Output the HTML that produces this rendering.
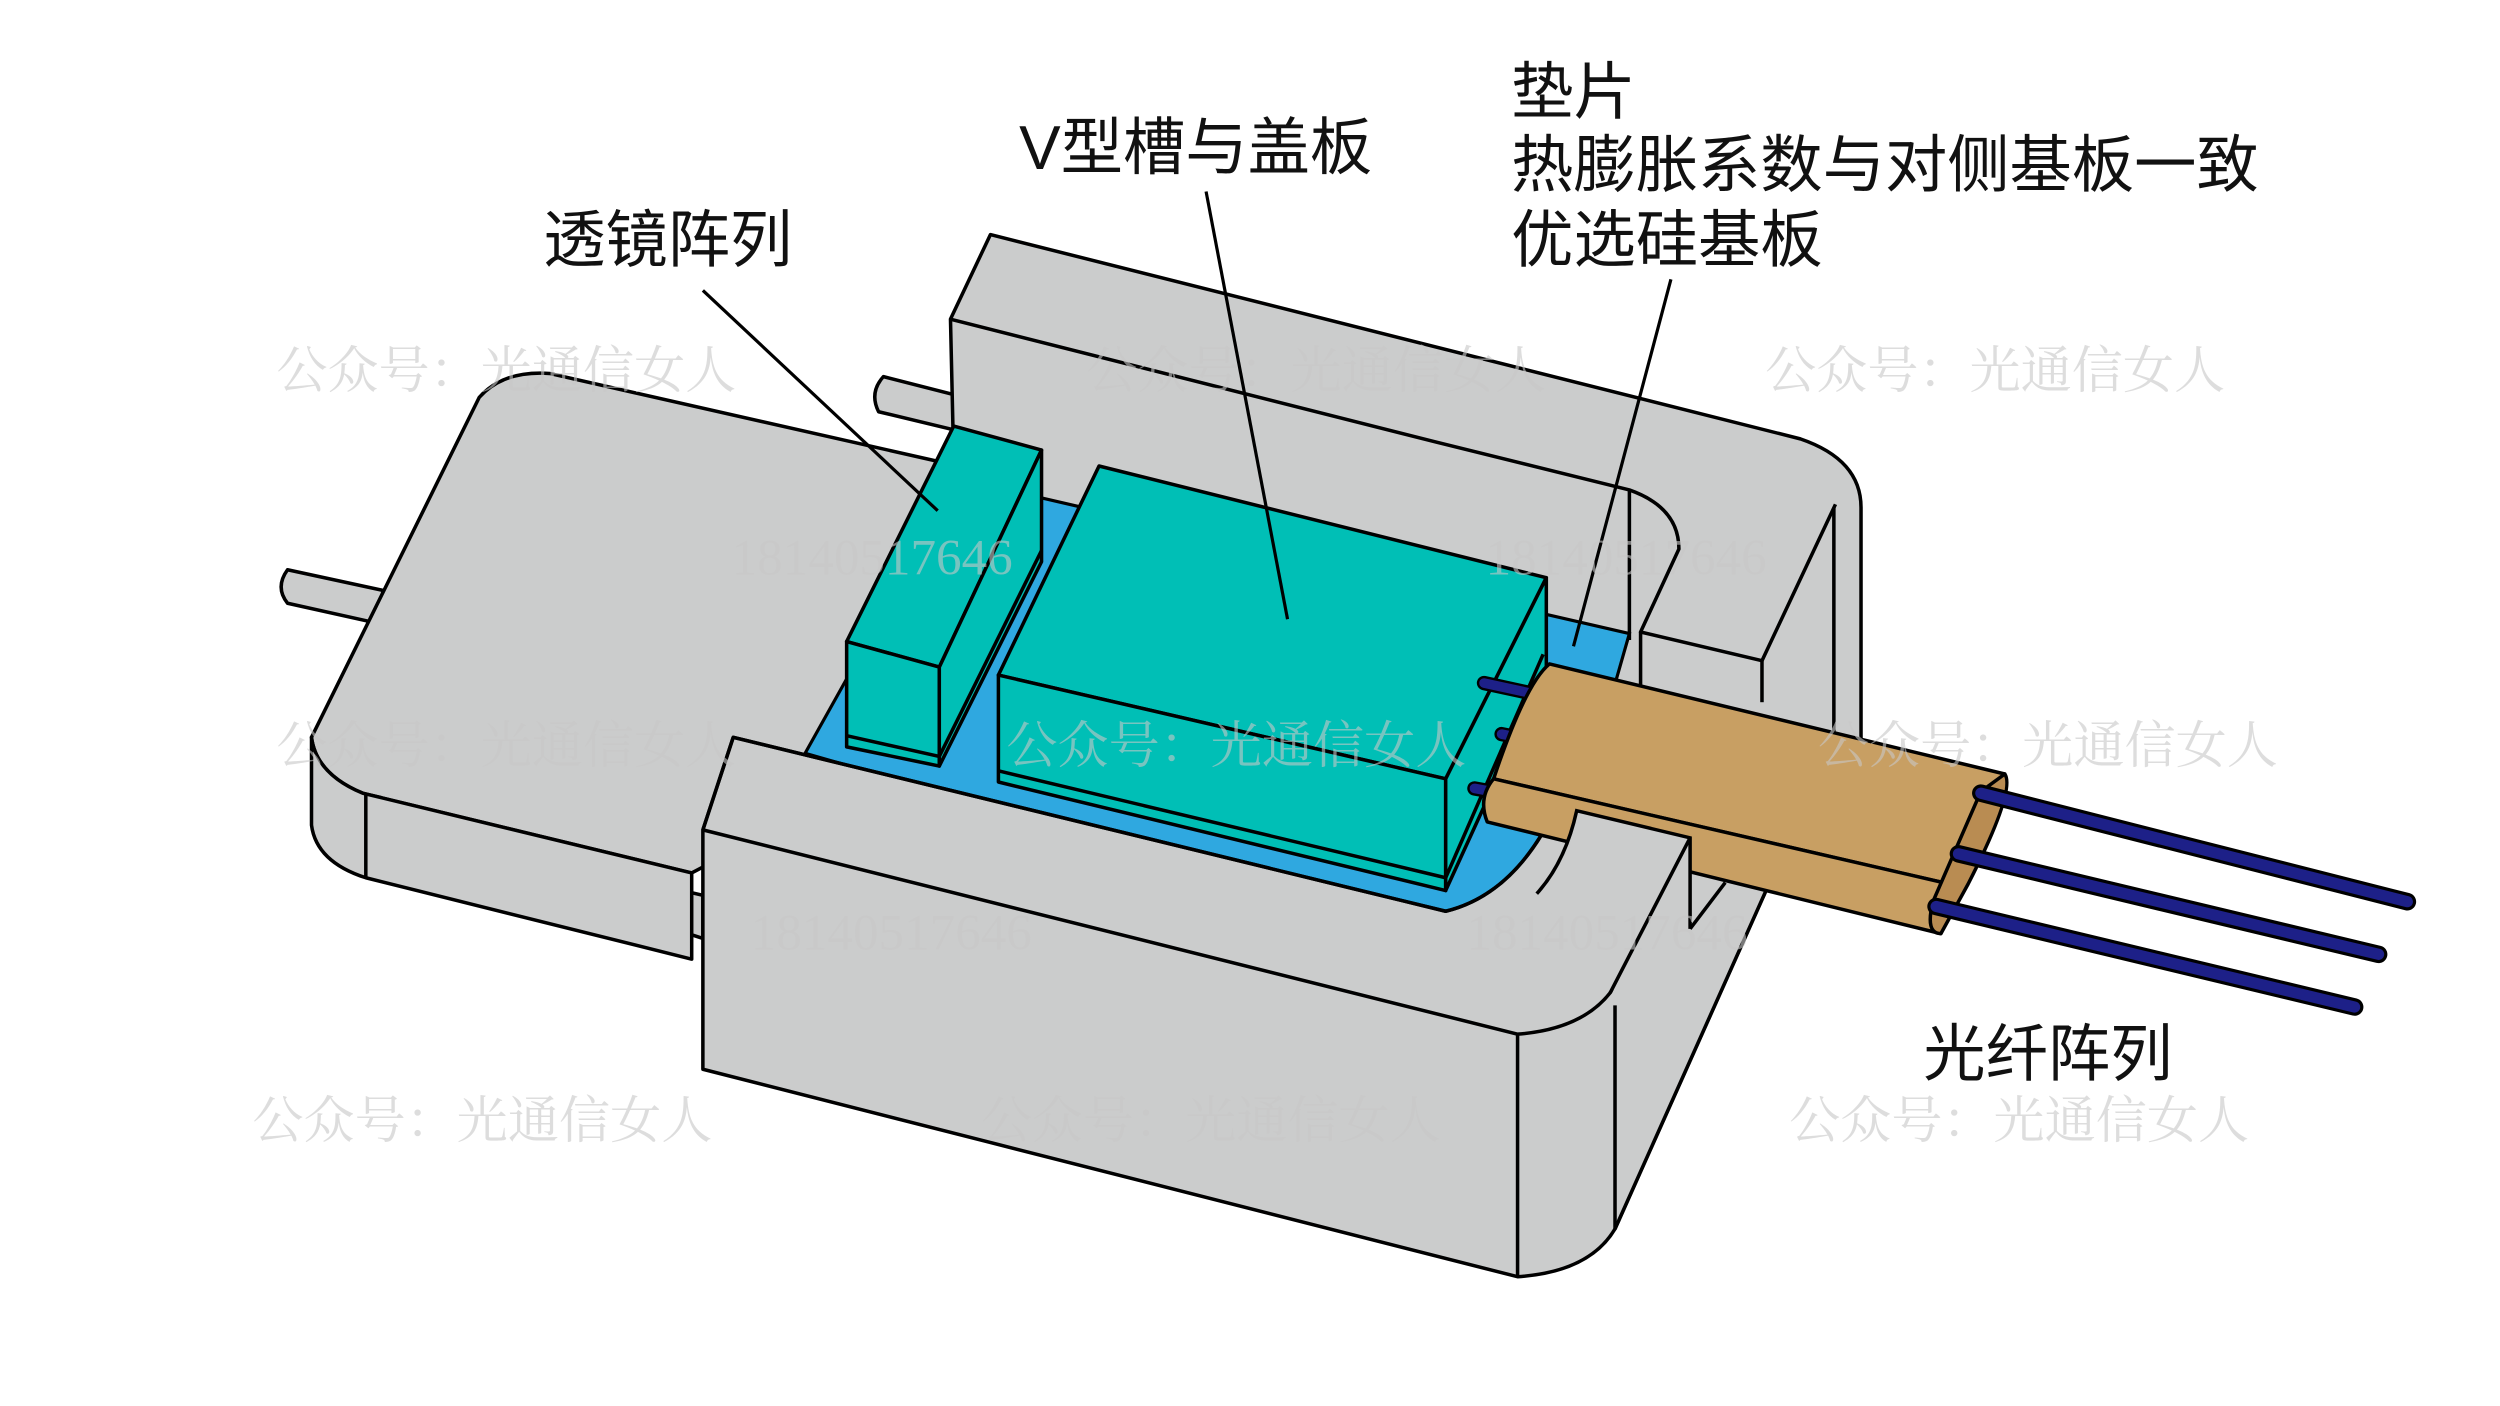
<!DOCTYPE html>
<html><head><meta charset="utf-8"><style>
html,body{margin:0;padding:0;background:#fff;}
svg{display:block;}
.t{font-family:"Liberation Sans","Noto Sans CJK SC",sans-serif;font-size:39px;fill:#111;}
.w{font-family:"Liberation Serif","Noto Serif CJK SC",serif;font-size:32px;fill:#c8c8c8;opacity:0.6;}
</style></head><body>
<svg width="2500" height="1406" viewBox="0 0 1565 881" preserveAspectRatio="none" xmlns="http://www.w3.org/2000/svg">
<g stroke="#000" stroke-width="2.2" stroke-linejoin="round" fill="#cbcccc">
<path d="M180,357 L240,370 L234,390 L180,378 Q172,368 180,357 Z"/>
<path d="M553,236 L600,248 L600,270 L550,258 Q544,246 553,236 Z"/>
<path d="M397,551 L440,561 L440,588 L394,573 Q388,560 397,551 Z"/>
<path d="M595,200 L620,147 L1127,275 Q1165,288 1165,318 L1165,500 L1100,560 L600,420 Z"/>
<path d="M595,200 L899,277 L1020,307 Q1051,318 1051,344 L1027,396 L1103,414 L1149,316" fill="none"/>
<line x1="1020" y1="307" x2="1020" y2="401"/>
<line x1="1027" y1="396" x2="1027" y2="440"/>
<line x1="1103" y1="414" x2="1103" y2="440"/>
<line x1="1148" y1="318" x2="1148" y2="460"/>
<line x1="1110" y1="548" x2="1011" y2="770"/>
<path d="M300,249 Q315,232 344,234 L600,292 L560,480 L433,547 L227,497 Q198,485 195,462 Z"/>
<path d="M195,462 Q198,485 227,497 L433,547 L433,601 L229,550 Q198,540 195,517 Z"/>
<line x1="229" y1="497" x2="229" y2="550"/>
</g>
<path d="M504,472 L600,300 L1020,397 L1012,425 L975,530 Q960,565 930,578 L880,580 Z" fill="#2fa8e0" stroke="#000" stroke-width="2"/>
<g stroke="#000" stroke-width="2.2" stroke-linejoin="round" fill="#00bfb6">
<path d="M597,267 L652,282 L588,418 L530,402 Z"/>
<path d="M530,402 L588,418 L588,480 L530,468 Z"/>
<path d="M588,418 L652,282 L652,352 L588,480 Z"/>
<line x1="530" y1="461" x2="588" y2="474"/>
<line x1="588" y1="474" x2="652" y2="345"/>
<path d="M688,292 L968,362 L905,488 L625,423 Z"/>
<path d="M625,423 L905,488 L905,558 L625,490 Z"/>
<path d="M905,488 L968,362 L968,420 L905,558 Z"/>
<line x1="625" y1="483" x2="905" y2="550"/>
<line x1="905" y1="550" x2="966" y2="410"/>
</g>
<g stroke-linecap="round">
<g stroke="#000" stroke-width="9">
<line x1="929" y1="428" x2="975" y2="438"/>
<line x1="940" y1="460" x2="965" y2="465"/>
<line x1="923" y1="494" x2="945" y2="498"/>
</g>
<g stroke="#1d2088" stroke-width="6">
<line x1="929" y1="428" x2="975" y2="438"/>
<line x1="940" y1="460" x2="965" y2="465"/>
<line x1="923" y1="494" x2="945" y2="498"/>
</g>
</g>
<g stroke="#000" stroke-width="2.2" stroke-linejoin="round" fill="#cbcccc">
<path d="M440,520 L459,462 L905,571 Q950,560 976,502 L1049,520 L1110,548 L1011,770 Q995,797 950,800 L440,670 Z"/>
<path d="M440,520 L950,648 Q990,645 1008,622 L1058,525" fill="none"/>
<path d="M459,462 L905,571 Q950,560 976,502" fill="none"/>
<line x1="440" y1="520" x2="459" y2="462"/>
<line x1="950" y1="648" x2="950" y2="800"/>
<line x1="1011" y1="630" x2="1011" y2="770"/>
</g>
<g stroke="#000" stroke-width="2.2" stroke-linejoin="round">
<path d="M970,416 L1255,485 L1225,555 L935,488 Q955,428 970,416 Z" fill="#c89f63"/>
<path d="M935,488 L1225,555 L1215,585 L931,515 Q925,500 935,488 Z" fill="#c89f63"/>
<path d="M1255,485 Q1262,495 1232,554 L1215,585 Q1205,585 1210,565 L1240,496 Z" fill="#b98c52"/>
</g>
<path d="M987,508 L1058,525 L1058,582 L1008,622 L962,560 Q980,540 987,508 Z" fill="#cbcccc"/>
<path d="M962,560 Q980,540 987,508 L1058,525 L1058,582" fill="none" stroke="#000" stroke-width="2.2"/>
<path d="M1058,525 L1008,622" fill="none" stroke="#000" stroke-width="2.2"/>
<line x1="1058" y1="582" x2="1080" y2="553" stroke="#000" stroke-width="2.2"/>
<g stroke-linecap="round">
<g stroke="#000" stroke-width="11">
<line x1="1240" y1="497" x2="1507" y2="565"/>
<line x1="1226" y1="535" x2="1489" y2="598"/>
<line x1="1212" y1="568" x2="1474" y2="631"/>
</g>
<g stroke="#1d2088" stroke-width="7">
<line x1="1240" y1="497" x2="1507" y2="565"/>
<line x1="1226" y1="535" x2="1489" y2="598"/>
<line x1="1212" y1="568" x2="1474" y2="631"/>
</g>
</g>
<g stroke="#000" stroke-width="2">
<line x1="440" y1="182" x2="587" y2="320"/>
<line x1="755" y1="120" x2="806" y2="388"/>
<line x1="1046" y1="175" x2="985" y2="405"/>
</g>
<text class="t" x="340" y="164">透镜阵列</text>
<text class="t" x="638" y="106">V型槽与盖板</text>
<text class="t" x="946" y="71">垫片</text>
<text class="t" x="946" y="117">热膨胀系数与对侧基板一致</text>
<text class="t" x="946" y="164">优选硅基板</text>
<text class="t" x="1204" y="674">光纤阵列</text>
<g class="w">
<text x="173" y="243">公众号：光通信女人</text>
<text x="680" y="243">公众号：光通信女人</text>
<text x="1105" y="243">公众号：光通信女人</text>
<text x="173" y="478">公众号：光通信女人</text>
<text x="630" y="478">公众号：光通信女人</text>
<text x="1138" y="478">公众号：光通信女人</text>
<text x="158" y="713">公众号：光通信女人</text>
<text x="614" y="713">公众号：光通信女人</text>
<text x="1120" y="713">公众号：光通信女人</text>
<text x="458" y="360">18140517646</text>
<text x="930" y="360">18140517646</text>
<text x="470" y="595">18140517646</text>
<text x="918" y="595">18140517646</text>
</g>
</svg>
</body></html>
